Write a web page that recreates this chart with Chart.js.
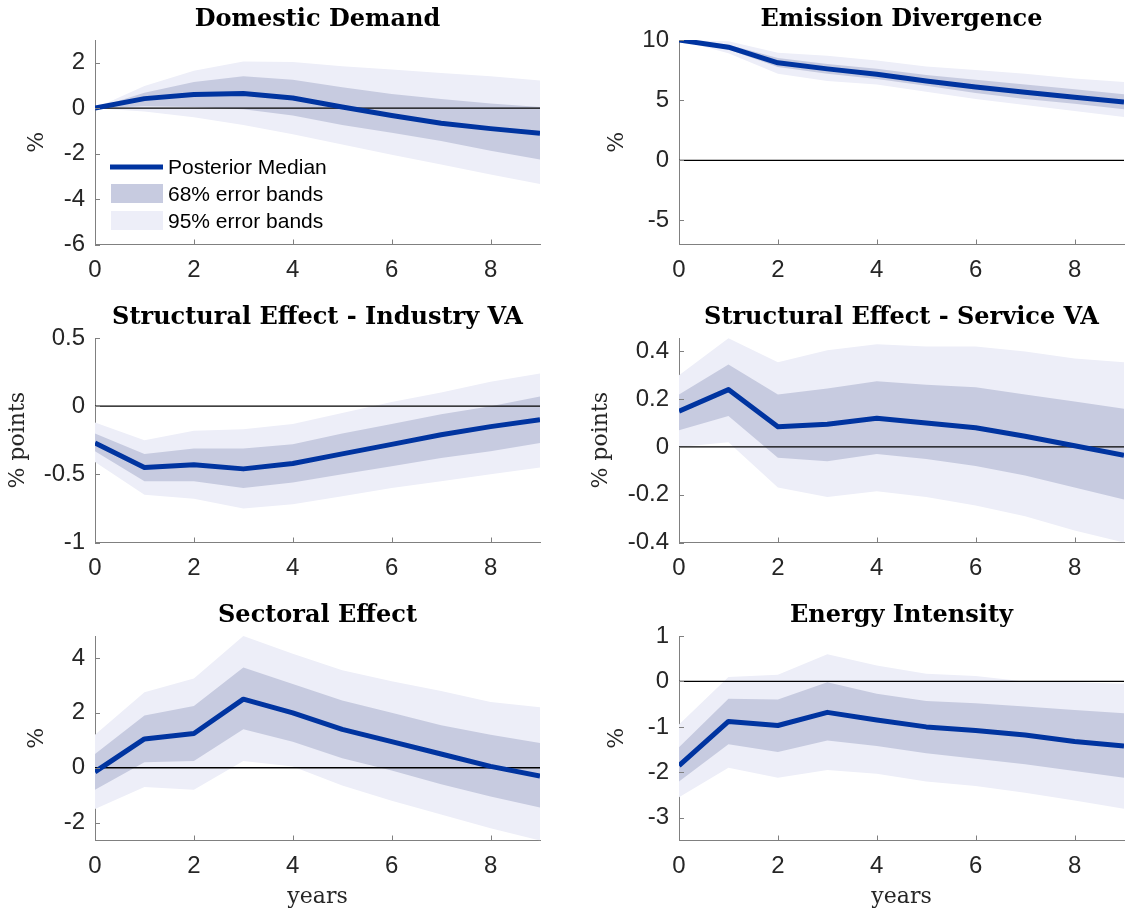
<!DOCTYPE html>
<html>
<head>
<meta charset="utf-8">
<script src="https://cdn.jsdelivr.net/npm/chart.js@4.4.0/dist/chart.umd.min.js"></script>
<style>
  html, body { margin: 0; padding: 0; background: #fff; }
  #wrap { position: relative; width: 1128px; height: 910px; }
  #wrap canvas { position: absolute; }
</style>
</head>
<body>
<div id="wrap">
  <canvas id="c1" width="564" height="298" style="left:0;top:0"></canvas>
  <canvas id="c2" width="564" height="298" style="left:564px;top:0"></canvas>
  <canvas id="c3" width="564" height="298" style="left:0;top:298px"></canvas>
  <canvas id="c4" width="564" height="298" style="left:564px;top:298px"></canvas>
  <canvas id="c5" width="564" height="314" style="left:0;top:596px"></canvas>
  <canvas id="c6" width="564" height="314" style="left:564px;top:596px"></canvas>
</div>
<script>
const years = [0, 1, 2, 3, 4, 5, 6, 7, 8, 9];
const xTicks = [0, 2, 4, 6, 8];

// Domestic Demand
const ddMed  = [0, 0.42, 0.6, 0.65, 0.45, 0.05, -0.32, -0.66, -0.9, -1.1];
const ddUp68 = [0, 0.68, 1.15, 1.4, 1.25, 0.92, 0.62, 0.4, 0.2, 0.05];
const ddLo68 = [0, 0.08, 0.05, -0.05, -0.32, -0.74, -1.08, -1.45, -1.87, -2.26];
const ddUp95 = [0, 0.98, 1.65, 2.05, 2.03, 1.85, 1.7, 1.55, 1.4, 1.22];
const ddLo95 = [0, -0.15, -0.4, -0.74, -1.15, -1.6, -2.05, -2.48, -2.92, -3.34];
const ddTicks = [-6, -4, -2, 0, 2];

// Emission Divergence
const edMed  = [10, 9.4, 8.1, 7.6, 7.15, 6.6, 6.1, 5.65, 5.25, 4.85];
const edUp68 = [10, 9.6, 8.5, 8.0, 7.6, 7.1, 6.7, 6.3, 5.9, 5.5];
const edLo68 = [10, 9.2, 7.75, 7.2, 6.75, 6.2, 5.6, 5.1, 4.7, 4.25];
const edUp95 = [10, 9.9, 8.95, 8.7, 8.3, 7.8, 7.5, 7.2, 6.8, 6.5];
const edLo95 = [10, 8.9, 7.2, 6.6, 6.3, 5.7, 5.1, 4.6, 4.1, 3.6];
const edTicks = [-5, 0, 5, 10];

// Structural Effect - Industry VA
const inMed  = [-0.27, -0.45, -0.43, -0.46, -0.42, -0.35, -0.28, -0.21, -0.15, -0.1];
const inUp68 = [-0.2, -0.35, -0.31, -0.31, -0.28, -0.2, -0.13, -0.06, 0.0, 0.07];
const inLo68 = [-0.33, -0.55, -0.55, -0.6, -0.56, -0.5, -0.44, -0.38, -0.33, -0.27];
const inUp95 = [-0.12, -0.25, -0.18, -0.17, -0.13, -0.05, 0.03, 0.1, 0.18, 0.24];
const inLo95 = [-0.41, -0.65, -0.68, -0.75, -0.72, -0.66, -0.6, -0.55, -0.5, -0.45];
const inTicks = [-1, -0.5, 0, 0.5];

// Structural Effect - Service VA
const svMed  = [0.15, 0.24, 0.085, 0.095, 0.12, 0.1, 0.08, 0.045, 0.005, -0.035];
const svUp68 = [0.22, 0.345, 0.22, 0.245, 0.275, 0.26, 0.25, 0.22, 0.19, 0.16];
const svLo68 = [0.07, 0.13, -0.045, -0.06, -0.03, -0.05, -0.08, -0.12, -0.17, -0.22];
const svUp95 = [0.3, 0.455, 0.355, 0.405, 0.43, 0.42, 0.42, 0.4, 0.37, 0.355];
const svLo95 = [0.0, 0.02, -0.17, -0.21, -0.185, -0.21, -0.245, -0.29, -0.35, -0.4];
const svTicks = [-0.4, -0.2, 0, 0.2, 0.4];

// Sectoral Effect
const seMed  = [-0.15, 1.05, 1.25, 2.5, 2.0, 1.4, 0.95, 0.5, 0.05, -0.3];
const seUp68 = [0.5, 1.9, 2.25, 3.65, 3.05, 2.45, 2.0, 1.55, 1.2, 0.9];
const seLo68 = [-0.8, 0.2, 0.25, 1.4, 0.95, 0.35, -0.1, -0.6, -1.05, -1.45];
const seUp95 = [1.2, 2.75, 3.25, 4.8, 4.15, 3.55, 3.15, 2.8, 2.4, 2.2];
const seLo95 = [-1.5, -0.7, -0.8, 0.25, 0.05, -0.65, -1.2, -1.7, -2.2, -2.65];
const seTicks = [-2, 0, 2, 4];

// Energy Intensity
const eiMed  = [-1.85, -0.88, -0.97, -0.68, -0.85, -1.0, -1.08, -1.18, -1.32, -1.42];
const eiUp68 = [-1.45, -0.38, -0.4, -0.02, -0.27, -0.43, -0.48, -0.55, -0.63, -0.7];
const eiLo68 = [-2.2, -1.38, -1.55, -1.3, -1.42, -1.58, -1.7, -1.82, -1.97, -2.12];
const eiUp95 = [-0.95, 0.1, 0.15, 0.6, 0.35, 0.17, 0.12, 0.0, -0.02, -0.05];
const eiLo95 = [-2.55, -1.9, -2.12, -1.95, -2.03, -2.2, -2.3, -2.45, -2.62, -2.8];
const eiTicks = [-3, -2, -1, 0, 1];

const medColor = 'rgb(0,52,160)';
const band68 = 'rgb(199,203,224)';
const band95 = 'rgb(237,238,248)';
const axisColor = '#808080';
const textColor = '#262626';
const tickFont = '"Liberation Sans", Arial, sans-serif';
const serif = '"DejaVu Serif", serif';

const pts = arr => arr.map((v, i) => ({x: years[i], y: v}));

// MATLAB style tick marks pointing into the plot
const inwardTicks = {
  id: 'inwardTicks',
  afterDraw(chart) {
    const {ctx, chartArea: a, scales: {x, y}} = chart;
    ctx.save();
    ctx.strokeStyle = axisColor;
    ctx.lineWidth = 1;
    ctx.beginPath();
    x.ticks.forEach(t => {
      const px = Math.round(x.getPixelForValue(t.value)) + 0.5;
      ctx.moveTo(px, a.bottom);
      ctx.lineTo(px, a.bottom - 5);
    });
    y.ticks.forEach(t => {
      const py = Math.round(y.getPixelForValue(t.value)) + 0.5;
      ctx.moveTo(a.left, py);
      ctx.lineTo(a.left + 5, py);
    });
    ctx.stroke();
    ctx.restore();
  }
};

const bandLegend = {
  id: 'bandLegend',
  afterDraw(chart) {
    if (!chart.options.plugins.bandLegend.show) return;
    const ctx = chart.ctx;
    const items = ['Posterior Median', '68% error bands', '95% error bands'];
    ctx.save();
    ctx.strokeStyle = medColor;
    ctx.lineWidth = 5;
    ctx.beginPath();
    ctx.moveTo(110, 167);
    ctx.lineTo(163, 167);
    ctx.stroke();
    ctx.fillStyle = band68;
    ctx.fillRect(111, 184, 52, 19);
    ctx.fillStyle = band95;
    ctx.fillRect(111, 211, 52, 19);
    ctx.fillStyle = '#000';
    ctx.font = '21px ' + tickFont;
    ctx.textBaseline = 'middle';
    items.forEach((t, i) => ctx.fillText(t, 168, 168 + i * 27));
    ctx.restore();
  }
};

function makePanel(id, title, yLabel, med, up68, lo68, up95, lo95, yMin, yMax, yTicks, right, opts) {
  const canvas = document.getElementById(id);
  const yWidth = right ? 115 : 95;
  const padRight = right ? 4 : 24;
  const xHeight = canvas.height - 244.5;
  let titlePad = 0;
  if (yLabel === '%') titlePad = right ? 39.8 : 23.8;
  else titlePad = right ? 23.8 : 4.8;
  const zero = years.map(() => 0);
  new Chart(canvas, {
    type: 'line',
    data: {
      datasets: [
        {data: pts(med), borderColor: medColor, borderWidth: 5, order: 0,
         borderJoinStyle: 'round', pointRadius: 0, fill: false},
        {data: pts(zero), borderColor: '#000', borderWidth: 1.3, order: 1, pointRadius: 0, fill: false},
        {data: pts(up68), borderWidth: 0, borderColor: 'rgba(0,0,0,0)', backgroundColor: band68,
         fill: '+1', order: 2, pointRadius: 0},
        {data: pts(lo68), borderWidth: 0, borderColor: 'rgba(0,0,0,0)', fill: false, order: 3, pointRadius: 0},
        {data: pts(up95), borderWidth: 0, borderColor: 'rgba(0,0,0,0)', backgroundColor: band95,
         fill: '+1', order: 4, pointRadius: 0},
        {data: pts(lo95), borderWidth: 0, borderColor: 'rgba(0,0,0,0)', fill: false, order: 5, pointRadius: 0}
      ]
    },
    options: {
      responsive: false,
      animation: false,
      devicePixelRatio: 1,
      layout: {padding: {left: 0, right: padRight, top: 0, bottom: 0}},
      elements: {line: {tension: 0}},
      plugins: {
        legend: {display: false},
        tooltip: {enabled: false},
        title: {
          display: true, text: title, color: '#000', fullSize: false,
          font: {family: serif, weight: 'bold', size: 24},
          padding: {top: 5, bottom: 6.2}
        },
        bandLegend: {show: !!opts.legend}
      },
      scales: {
        x: {
          type: 'linear', min: 0, max: 9,
          afterBuildTicks: s => { s.ticks = xTicks.map(v => ({value: v})); },
          afterFit: s => { s.height = xHeight; },
          grid: {display: false, drawTicks: false},
          border: {display: true, color: axisColor, width: 1},
          ticks: {color: textColor, font: {family: tickFont, size: 24}, padding: 11,
                  maxRotation: 0, autoSkip: false, callback: v => String(v)},
          title: {display: !!opts.years, text: 'years', color: textColor,
                  font: {family: serif, size: 22}, padding: {top: 0, bottom: 0}}
        },
        y: {
          min: yMin, max: yMax,
          afterBuildTicks: s => { s.ticks = yTicks.map(v => ({value: v})); },
          afterFit: s => { s.width = yWidth; },
          grid: {display: false, drawTicks: false},
          border: {display: true, color: axisColor, width: 1},
          ticks: {color: textColor, font: {family: tickFont, size: 24}, padding: 10,
                  autoSkip: false, callback: v => String(v)},
          title: {display: true, text: yLabel, color: textColor,
                  font: {family: serif, size: 22}, padding: {top: titlePad, bottom: 0}}
        }
      }
    },
    plugins: [inwardTicks, bandLegend]
  });
}

makePanel('c1', 'Domestic Demand', '%', ddMed, ddUp68, ddLo68, ddUp95, ddLo95, -6, 3, ddTicks, false, {legend: true});
makePanel('c2', 'Emission Divergence', '%', edMed, edUp68, edLo68, edUp95, edLo95, -7, 10, edTicks, true, {});
makePanel('c3', 'Structural Effect - Industry VA', '% points', inMed, inUp68, inLo68, inUp95, inLo95, -1, 0.5, inTicks, false, {});
makePanel('c4', 'Structural Effect - Service VA', '% points', svMed, svUp68, svLo68, svUp95, svLo95, -0.4, 0.456, svTicks, true, {});
makePanel('c5', 'Sectoral Effect', '%', seMed, seUp68, seLo68, seUp95, seLo95, -2.65, 4.8, seTicks, false, {years: true});
makePanel('c6', 'Energy Intensity', '%', eiMed, eiUp68, eiLo68, eiUp95, eiLo95, -3.5, 1, eiTicks, true, {years: true});
</script>
</body>
</html>
